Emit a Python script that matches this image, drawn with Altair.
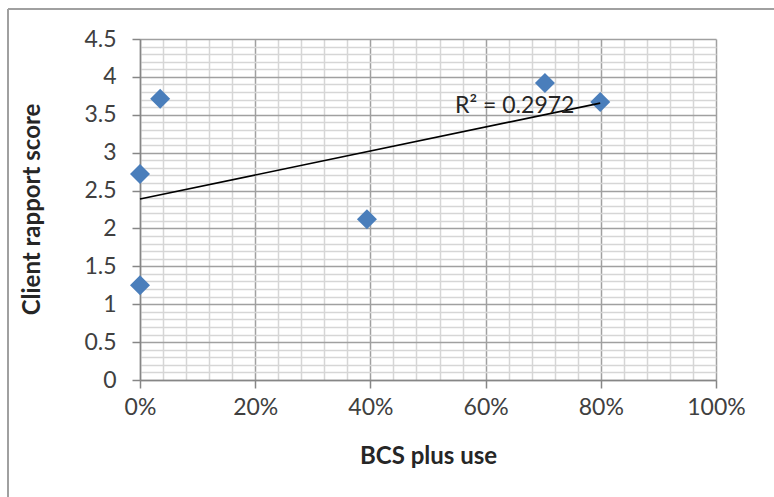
import altair as alt
import pandas as pd

# Share of clients using BCS plus, and their client rapport score
bcs_plus_use = [0.0, 0.0, 0.035, 0.394, 0.703, 0.799]
rapport_score = [2.72, 1.25, 3.71, 2.12, 3.92, 3.67]

# Gridline positions: major every 20% / 0.5, minor every 4% / 0.1
x_grid = [round(i * 0.04, 2) for i in range(26)]
y_grid = [round(i * 0.1, 1) for i in range(46)]

# Trendline annotation
r2_text = ["R² = 0.2972"]
r2_x = [0.547]
r2_y = [3.62]

FONT = "Lato"
BLUE = "#4a7ebb"
MAJOR = "#a0a0a0"
MINOR = "#d6d6d6"

df = pd.DataFrame({"bcs": bcs_plus_use, "score": rapport_score})
note = pd.DataFrame({"label": r2_text, "bcs": r2_x, "score": r2_y})

x_major = "abs(datum.value*5 - round(datum.value*5)) < 1e-6"
y_major = "abs(datum.value*2 - round(datum.value*2)) < 1e-6"

x_axis = alt.Axis(
    values=x_grid,
    tickCount=200,
    format=".0%",
    labelExpr=f"{x_major} ? datum.label : ''",
    grid=True,
    gridColor={"condition": {"test": x_major, "value": MAJOR}, "value": MINOR},
    gridWidth=1.5,
    tickColor={"condition": {"test": x_major, "value": "#868686"}, "value": "transparent"},
    tickSize=8,
    tickWidth=1.5,
    domainColor="#868686",
    domainWidth=1.5,
    labelFlush=False,
    labelOverlap=False,
    labelPadding=8,
    title="BCS plus use",
    titleY=76,
    titleBaseline="middle",
)

y_axis = alt.Axis(
    values=y_grid,
    tickCount=200,
    format="~g",
    labelExpr=f"{y_major} ? datum.label : ''",
    grid=True,
    gridColor={"condition": {"test": y_major, "value": MAJOR}, "value": MINOR},
    gridWidth=1.5,
    tickColor={"condition": {"test": y_major, "value": "#868686"}, "value": "transparent"},
    tickSize=8,
    tickWidth=1.5,
    domainColor="#868686",
    domainWidth=1.5,
    labelFlush=False,
    labelOverlap=False,
    labelPadding=16,
    title="Client rapport score",
    titleX=-108,
    titleY=170,
    titleAlign="center",
    titleBaseline="middle",
)

base = alt.Chart(df)

points = base.mark_point(
    shape="diamond", filled=True, size=400, color=BLUE, opacity=1
).encode(
    x=alt.X("bcs:Q", scale=alt.Scale(domain=[0, 1], nice=False), axis=x_axis),
    y=alt.Y("score:Q", scale=alt.Scale(domain=[0, 4.5], nice=False), axis=y_axis),
)

trend = base.transform_regression("bcs", "score").mark_line(
    color="black", strokeWidth=1.6
).encode(x="bcs:Q", y="score:Q")

label = alt.Chart(note).mark_text(
    align="left", baseline="middle", font=FONT, fontSize=23, color="#262626"
).encode(x="bcs:Q", y="score:Q", text="label:N")

# Chart-area frame along the left and top edges
frame_left = alt.Chart(df).mark_rule(color="#a0a0a0", strokeWidth=2).encode(
    x=alt.value(-132), y=alt.value(-30), y2=alt.value(470)
)
frame_top = alt.Chart(df).mark_rule(color="#a0a0a0", strokeWidth=2).encode(
    x=alt.value(-132), x2=alt.value(640), y=alt.value(-30)
)

chart = alt.layer(frame_left, frame_top, points, trend, label).properties(
    width=576,
    height=341,
    padding={"left": 140, "top": 39, "right": 58, "bottom": 117},
    autosize=alt.AutoSizeParams(type="none"),
    background="white",
).configure_view(stroke=None).configure_axis(
    labelFont=FONT,
    labelFontSize=23,
    labelColor="#404040",
    titleFont=FONT,
    titleFontSize=24,
    titleFontWeight="bold",
    titleColor="#262626",
)

chart.save("out.html", embed_options={"renderer": "svg", "actions": False})
